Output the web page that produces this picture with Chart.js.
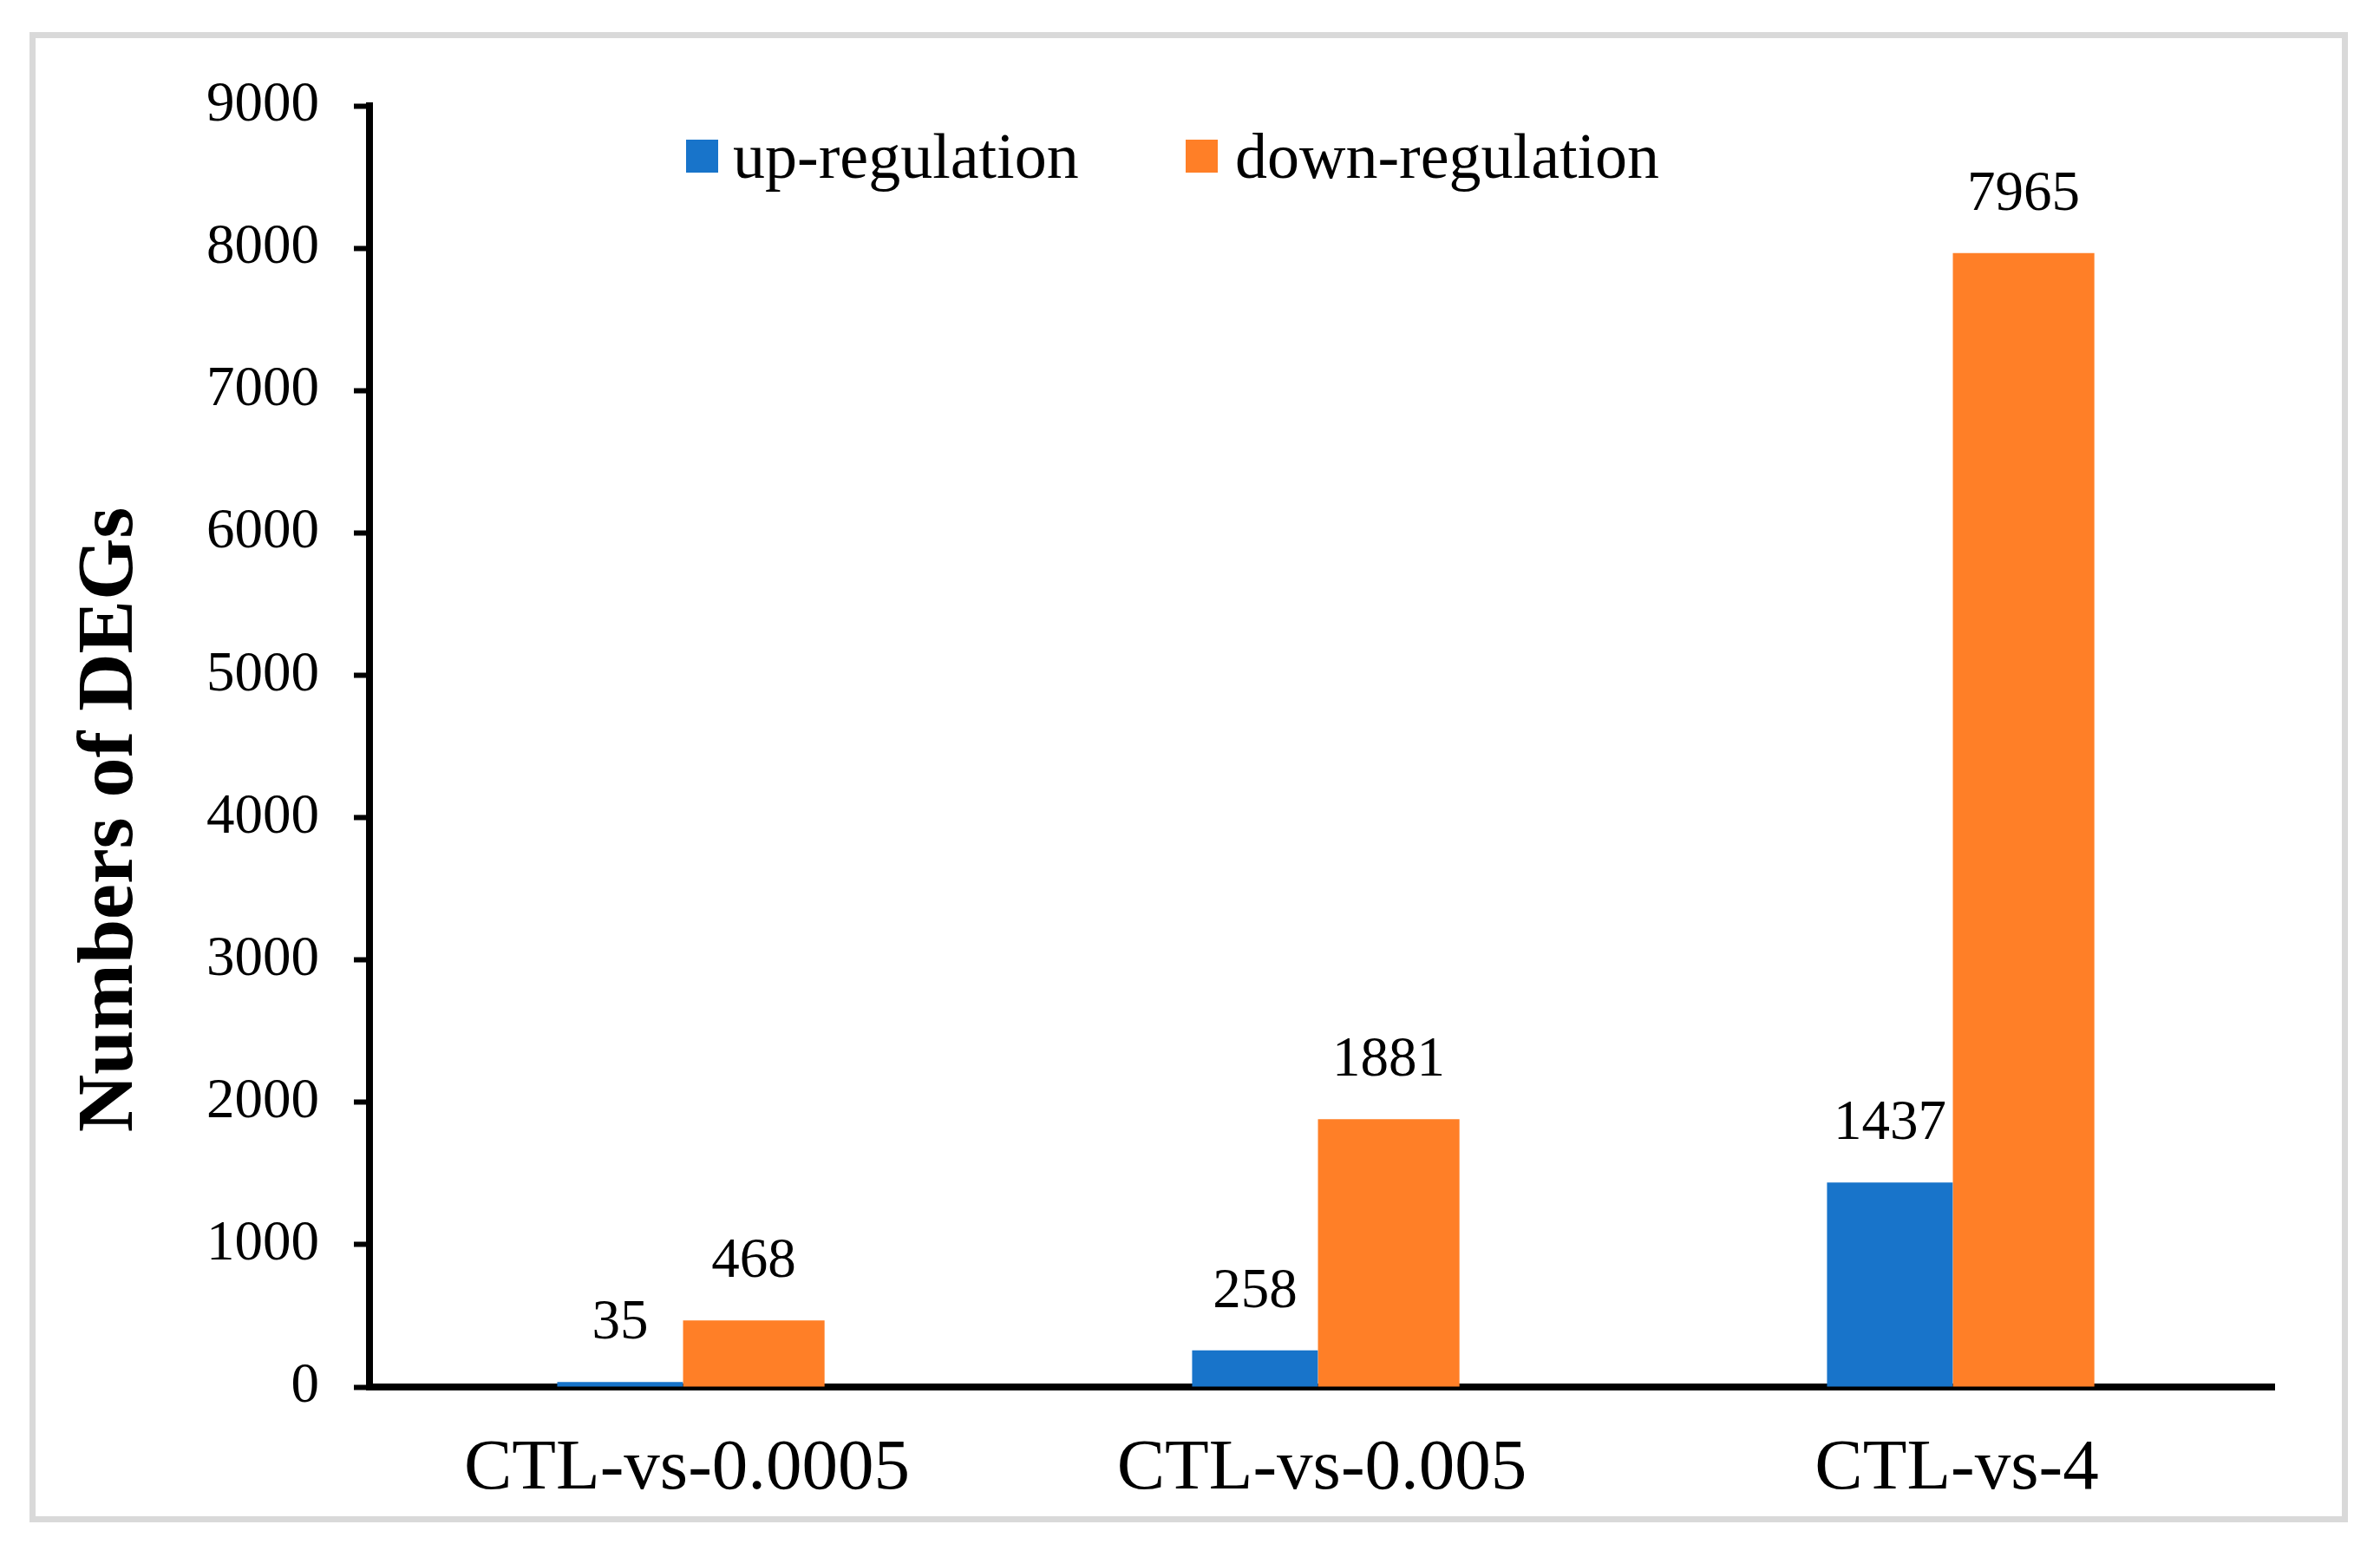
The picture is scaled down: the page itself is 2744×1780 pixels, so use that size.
<!DOCTYPE html>
<html lang="en">
<head>
    <meta charset="UTF-8">
    <title>Numbers of DEGs</title>
    <script src="https://cdn.jsdelivr.net/npm/chart.js"></script>
    <style>
        * {
            margin: 0;
            padding: 0;
            box-sizing: border-box;
        }

        body {
            width: 2744px;
            height: 1780px;
            background: #fff;
            overflow: hidden;
            position: relative;
        }

        canvas {
            position: absolute;
            left: 0;
            top: 0;
        }

        .frame {
            position: absolute;
            left: 34px;
            top: 37px;
            width: 2673px;
            height: 1718px;
            border: 7px solid #d9d9d9;
            pointer-events: none;
        }
    </style>
</head>
<body>
    <canvas id="degChart" width="2744" height="1780"></canvas>
    <div class="frame"></div>

    <script>
        // data
        const categories = ['CTL-vs-0.0005', 'CTL-vs-0.005', 'CTL-vs-4'];
        const seriesNames = ['up-regulation', 'down-regulation'];
        const upValues = [35, 258, 1437];
        const downValues = [468, 1881, 7965];
        const yTicks = [0, 1000, 2000, 3000, 4000, 5000, 6000, 7000, 8000, 9000];
        const yTitle = 'Numbers of DEGs';

        const blue = '#1874CA';
        const orange = '#FF7F27';
        const serif = "'Liberation Serif', 'Times New Roman', serif";

        // value labels, legend inside the plot and the y title
        const decor = {
            id: 'decor',
            afterDatasetsDraw(chart) {
                const ctx = chart.ctx;
                ctx.save();
                ctx.fillStyle = '#000';
                ctx.font = '65px ' + serif;
                ctx.textAlign = 'center';
                ctx.textBaseline = 'alphabetic';
                chart.data.datasets.forEach((ds, i) => {
                    chart.getDatasetMeta(i).data.forEach((bar, j) => {
                        ctx.fillText(String(ds.data[j]), bar.x, bar.y - 50);
                    });
                });

                // legend
                const items = [{ box: 791, text: 845 }, { box: 1367, text: 1424 }];
                ctx.font = '74px ' + serif;
                ctx.textAlign = 'left';
                chart.data.datasets.forEach((ds, i) => {
                    ctx.fillStyle = ds.backgroundColor;
                    ctx.fillRect(items[i].box, 161, 37, 38);
                    ctx.fillStyle = '#000';
                    ctx.fillText(ds.label, items[i].text, 205);
                });

                // y axis title
                ctx.translate(152, 945);
                ctx.rotate(-Math.PI / 2);
                ctx.font = 'bold 92px ' + serif;
                ctx.textAlign = 'center';
                ctx.fillText(yTitle, 0, 0);
                ctx.restore();
            }
        };

        const ctx = document.getElementById('degChart').getContext('2d');
        new Chart(ctx, {
            type: 'bar',
            data: {
                labels: categories,
                datasets: [{
                    label: seriesNames[0],
                    data: upValues,
                    backgroundColor: blue,
                    barPercentage: 0.94,
                    categoryPercentage: 0.4213
                }, {
                    label: seriesNames[1],
                    data: downValues,
                    backgroundColor: orange,
                    barPercentage: 1.058,
                    categoryPercentage: 0.4213
                }]
            },
            options: {
                responsive: false,
                devicePixelRatio: 1,
                animation: false,
                layout: {
                    padding: { left: 0, top: 122, right: 122, bottom: 21 }
                },
                plugins: {
                    legend: { display: false },
                    tooltip: { enabled: false }
                },
                scales: {
                    x: {
                        grid: { display: false, drawTicks: false },
                        border: { display: true, color: '#000', width: 8 },
                        ticks: {
                            color: '#000',
                            font: { family: serif, size: 83 },
                            padding: 45,
                            maxRotation: 0,
                            autoSkip: false
                        },
                        afterFit: (scale) => { scale.height = 160; }
                    },
                    y: {
                        min: 0,
                        max: 9000,
                        grid: {
                            drawOnChartArea: false,
                            drawTicks: true,
                            tickLength: 18,
                            tickWidth: 6,
                            tickColor: '#000'
                        },
                        border: { display: true, color: '#000', width: 8 },
                        ticks: {
                            color: '#000',
                            font: { family: serif, size: 65 },
                            padding: 40,
                            callback: (value) => String(value)
                        },
                        afterBuildTicks: (scale) => {
                            scale.ticks = yTicks.map(v => ({ value: v }));
                        },
                        afterFit: (scale) => { scale.width = 426; }
                    }
                }
            },
            plugins: [decor]
        });
    </script>
</body>
</html>
